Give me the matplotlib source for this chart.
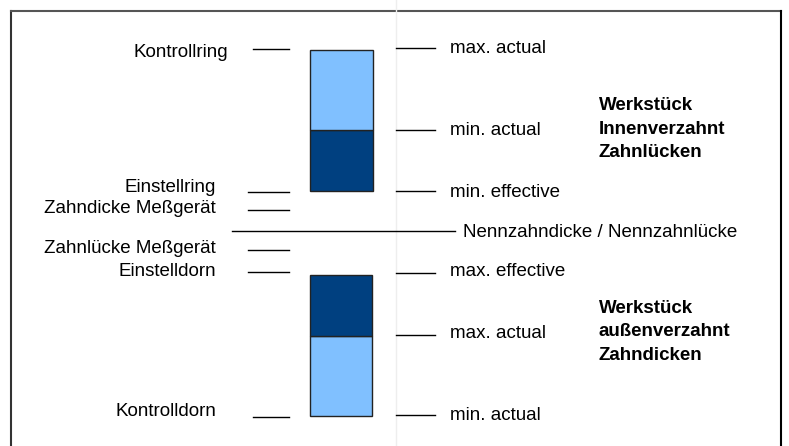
import matplotlib.pyplot as plt
from matplotlib.patches import Rectangle

plt.rcParams['font.family'] = ['Liberation Sans', 'DejaVu Sans']

# levels relative to the nominal size (Nennmass = 0), drawing units
inner_bar = [40, 101, 181]            # min. effective, min. actual, top of bar
inner_right = ['max. actual', 'min. actual', 'min. effective']
inner_right_y = [183, 101, 40]
inner_left = ['Kontrollring', 'Einstellring', 'Zahndicke Meßgerät']
inner_left_y = [182, 39, 21]

outer_bar = [-185, -105, -44]         # bottom of bar, max. actual, max. effective
outer_right = ['max. effective', 'max. actual', 'min. actual']
outer_right_y = [-42, -104, -184]
outer_left = ['Zahnlücke Meßgerät', 'Einstelldorn', 'Kontrolldorn']
outer_left_y = [-19, -41, -186]

nominal_label = 'Nennzahndicke / Nennzahnlücke'
inner_title = ['Werkstück', 'Innenverzahnt', 'Zahnlücken']
outer_title = ['Werkstück', 'außenverzahnt', 'Zahndicken']

light = '#80C0FF'
dark = '#004080'
fs = 13.5

fig = plt.figure(figsize=(7.89, 4.46), dpi=100)
ax = fig.add_axes([0, 0, 1, 1])
ax.set_xlim(0, 789)
ax.set_ylim(-215, 231)
ax.axis('off')

# frame and faint guide line
ax.plot([11.5, 11.5], [-230, 220.5], color='#333333', lw=1.5)
ax.plot([11.5, 781.5], [220.5, 220.5], color='#555555', lw=1.5)
ax.plot([781.5, 781.5], [-230, 220.5], color='black', lw=1.5)
ax.plot([396, 396], [-230, 240], color='#eeeeee', lw=1)

# bars
ax.add_patch(Rectangle((310, inner_bar[0]), 63, inner_bar[1] - inner_bar[0],
                       facecolor=dark, edgecolor='#222222', lw=1))
ax.add_patch(Rectangle((310, inner_bar[1]), 63, inner_bar[2] - inner_bar[1],
                       facecolor=light, edgecolor='#222222', lw=1))
ax.add_patch(Rectangle((310, outer_bar[0]), 62, outer_bar[1] - outer_bar[0],
                       facecolor=light, edgecolor='#222222', lw=1))
ax.add_patch(Rectangle((310, outer_bar[1]), 62, outer_bar[2] - outer_bar[1],
                       facecolor=dark, edgecolor='#222222', lw=1))

# left labels with marks (baseline offsets in px)
left_shift = [-8, 0, -3, -3, -4, 1]
for lab, y, dy in zip(inner_left + outer_left, inner_left_y + outer_left_y, left_shift):
    x1 = 253 if lab.startswith('Kontroll') else 248
    ax.plot([x1, 289], [y, y], color='black', lw=1)
    xt = 228 if lab == 'Kontrollring' else 216
    ax.text(xt, y + dy, lab, ha='right', va='baseline', fontsize=fs)

# right labels with marks
right_shift = [-5, -5, -6, -3, -3, -5]
for lab, y, dy in zip(inner_right + outer_right, inner_right_y + outer_right_y, right_shift):
    ax.plot([396, 435], [y, y], color='black', lw=1)
    ax.text(450, y + dy, lab, ha='left', va='baseline', fontsize=fs)

# nominal line
ax.plot([232, 455], [0, 0], color='black', lw=1)
ax.text(463, -6, nominal_label, ha='left', va='baseline', fontsize=fs)

# bold group titles, one line each
for i, (a, b) in enumerate(zip(inner_title, outer_title)):
    ax.text(599, 121 - 23.5 * i, a, ha='left', va='baseline', fontsize=fs,
            fontweight='bold')
    ax.text(599, -82 - 23.5 * i, b, ha='left', va='baseline', fontsize=fs,
            fontweight='bold')

fig.savefig('out.png', dpi=100)
plt.close(fig)
